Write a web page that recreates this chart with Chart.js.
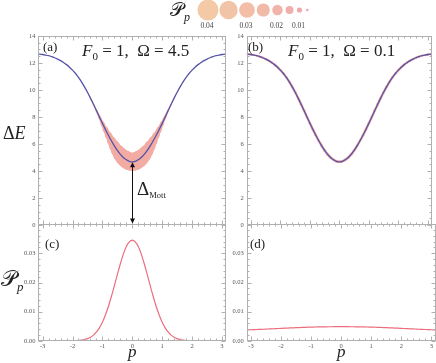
<!DOCTYPE html>
<html>
<head>
<meta charset="utf-8">
<script src="https://cdn.jsdelivr.net/npm/chart.js@4/dist/chart.umd.min.js"></script>
<style>
html, body { margin: 0; padding: 0; background: #fff; overflow: hidden; }
#wrap { position: relative; width: 436px; height: 363px; }
canvas { position: absolute; left: 0; top: 0; }
.t { position: absolute; font-family: "Liberation Serif", "DejaVu Serif", serif; color: #222; white-space: nowrap; line-height: 1; }
.sub { font-style: italic; position: relative; }
</style>
</head>
<body>
<div id="wrap">
  <canvas id="cA" width="436" height="363"></canvas>
  <canvas id="cB" width="436" height="363"></canvas>
  <canvas id="cC" width="436" height="363"></canvas>
  <canvas id="cD" width="436" height="363"></canvas>

  <div class="t" style="left:170px;top:0px;font-size:19px">𝒫<span class="sub" style="font-size:12px;top:5px">p</span></div>
  <div class="t" style="left:3px;top:124px;font-size:18px">Δ<i>E</i></div>
  <div class="t" style="left:1px;top:268px;font-size:22px">𝒫<span class="sub" style="font-size:13px;top:5px">p</span></div>

  <div class="t" style="left:43px;top:40px;font-size:13px">(a)</div>
  <div class="t" style="left:248px;top:40px;font-size:13px">(b)</div>
  <div class="t" style="left:45px;top:237px;font-size:13px">(c)</div>
  <div class="t" style="left:250px;top:237px;font-size:13px">(d)</div>

  <div class="t" style="left:82px;top:42px;font-size:17px"><i>F</i><span style="font-size:11px;position:relative;top:4px">0</span>&nbsp;=&nbsp;1,&nbsp;&nbsp;Ω&nbsp;=&nbsp;4.5</div>
  <div class="t" style="left:288px;top:42px;font-size:17px"><i>F</i><span style="font-size:11px;position:relative;top:4px">0</span>&nbsp;=&nbsp;1,&nbsp;&nbsp;Ω&nbsp;=&nbsp;0.1</div>

  <div class="t" style="left:137px;top:179px;font-size:19px">Δ<span style="font-size:8.5px;position:relative;top:3px">Mott</span></div>
</div>

<script>
// momentum grid
const pVals = [-3.1416, -3.1, -3.0, -2.9, -2.8, -2.7, -2.6, -2.5, -2.4, -2.3, -2.2, -2.1, -2.0,
  -1.9, -1.8, -1.7, -1.6, -1.5, -1.4, -1.3, -1.2, -1.1, -1.0, -0.9, -0.8, -0.7, -0.6, -0.5,
  -0.4, -0.3, -0.2, -0.1, 0.0, 0.1, 0.2, 0.3, 0.4, 0.5, 0.6, 0.7, 0.8, 0.9, 1.0, 1.1, 1.2,
  1.3, 1.4, 1.5, 1.6, 1.7, 1.8, 1.9, 2.0, 2.1, 2.2, 2.3, 2.4, 2.5, 2.6, 2.7, 2.8, 2.9, 3.0,
  3.1, 3.1416];

// quasi energy gap, same in (a) and (b)
const deltaE = [12.66, 12.65, 12.63, 12.59, 12.54, 12.47, 12.39, 12.29, 12.18, 12.04, 11.88, 11.69, 11.47,
  11.22, 10.93, 10.60, 10.23, 9.83, 9.40, 8.95, 8.48, 8.00, 7.53, 7.08, 6.65, 6.24, 5.86, 5.52,
  5.23, 5.00, 4.83, 4.72, 4.68, 4.72, 4.83, 5.00, 5.23, 5.52, 5.86, 6.24, 6.65, 7.08, 7.53, 8.00, 8.48,
  8.95, 9.40, 9.83, 10.23, 10.60, 10.93, 11.22, 11.47, 11.69, 11.88, 12.04, 12.18, 12.29, 12.39, 12.47, 12.54, 12.59, 12.63,
  12.65, 12.66];

// P_p for Omega = 4.5  (panel c)
const probFast = [0, 0, 0, 0, 0, 0, 0, 0, 0, 0, 0, 0, 0.00005,
  0.0001, 0.00015, 0.0003, 0.0005, 0.0008, 0.0013, 0.0020, 0.0031, 0.0045, 0.0064, 0.0089, 0.0118, 0.0152, 0.0189, 0.0227,
  0.0264, 0.0297, 0.0323, 0.0339, 0.0345, 0.0339, 0.0323, 0.0297, 0.0264, 0.0227, 0.0189, 0.0152, 0.0118, 0.0089, 0.0064, 0.0045, 0.0031,
  0.0020, 0.0013, 0.0008, 0.0005, 0.0003, 0.00015, 0.0001, 0.00005, 0, 0, 0, 0, 0, 0, 0, 0, 0, 0,
  0, 0];

// P_p for Omega = 0.1  (panel d)
const probSlow = [0.00381, 0.00382, 0.00385, 0.00389, 0.00393, 0.00397, 0.00402, 0.00407, 0.00412, 0.00417, 0.00422, 0.00427, 0.00432,
  0.00437, 0.00442, 0.00447, 0.00452, 0.00456, 0.00460, 0.00464, 0.00468, 0.00471, 0.00474, 0.00477, 0.00480, 0.00482, 0.00484, 0.00486,
  0.00487, 0.00488, 0.00489, 0.00490, 0.00490, 0.00490, 0.00489, 0.00488, 0.00487, 0.00486, 0.00484, 0.00482, 0.00480, 0.00477, 0.00474, 0.00471, 0.00468,
  0.00464, 0.00460, 0.00456, 0.00452, 0.00447, 0.00442, 0.00437, 0.00432, 0.00427, 0.00422, 0.00417, 0.00412, 0.00407, 0.00402, 0.00397, 0.00393, 0.00389, 0.00385,
  0.00382, 0.00381];

const mottGap = 4.68;

// ticks
const pTicks = [-3, -2, -1, 0, 1, 2, 3];
const energyTicks = [0, 2, 4, 6, 8, 10, 12, 14];
const probTicks = [0, 0.01, 0.02, 0.03];

// bubble legend
const legendProb = [0.04, 0.035, 0.03, 0.025, 0.02, 0.015, 0.01, 0.005];
const legendLabels = ['0.04', '', '0.03', '', '0.02', '', '0.01', ''];

const FONT = '"Liberation Serif", "DejaVu Serif", serif';
const BLUE = '#5654a8';
const PINK = '#ec6e7e';
const BAND = '#f2aca3';
const bubbleScale = 262; // px radius per unit of P_p

function bubbleR(v) { return v * bubbleScale; }

function legendColor(v) {
  // pink for small, peach for large
  const t = Math.min(1, v / 0.04);
  const a = [238, 158, 172], b = [243, 201, 166];
  const c = a.map((x, i) => Math.round(x + (b[i] - x) * t));
  return 'rgb(' + c.join(',') + ')';
}

const areas = {
  a: { l: 38.4, r: 226.2, t: 36, b: 225 },
  b: { l: 246.8, r: 435.6, t: 36, b: 225 },
  c: { l: 38.4, r: 226.2, t: 224, b: 341 },
  d: { l: 246.8, r: 435.6, t: 224, b: 341 }
};

const framePlugin = {
  id: 'frame',
  afterDatasetsDraw(chart, args, o) {
    const { ctx, chartArea: a } = chart;
    const xs = chart.scales.x, ys = chart.scales.y;
    const L = Math.round(a.left) + 0.5, R = Math.round(a.right) - 0.5;
    const T = Math.round(a.top) + 0.5, B = Math.round(a.bottom) - 0.5;
    ctx.save();
    ctx.strokeStyle = '#b0b0b0';
    ctx.lineWidth = 1;
    ctx.strokeRect(L, T, R - L, B - T);
    ctx.beginPath();
    for (let k = -16; k <= 16; k++) {
      const v = k / 5;
      if (v < xs.min || v > xs.max) continue;
      const len = k % 5 === 0 ? 4 : 2;
      const px = Math.round(xs.getPixelForValue(v)) + 0.5;
      ctx.moveTo(px, B); ctx.lineTo(px, B - len);
      ctx.moveTo(px, T); ctx.lineTo(px, T + len);
    }
    const n = Math.round(ys.max / o.minor);
    for (let k = 0; k <= n; k++) {
      const v = k * o.minor;
      const major = k % o.per === 0;
      const len = major ? 4 : 2;
      const py = Math.round(ys.getPixelForValue(v)) + 0.5;
      ctx.moveTo(L, py); ctx.lineTo(L + len, py);
      ctx.moveTo(R, py); ctx.lineTo(R - len, py);
    }
    ctx.stroke();
    ctx.restore();
  }
};

const mottPlugin = {
  id: 'mott',
  afterDatasetsDraw(chart) {
    const { ctx } = chart;
    const x = Math.round(chart.scales.x.getPixelForValue(0)) + 0.5;
    const y0 = chart.scales.y.getPixelForValue(0) - 1.5;
    const y1 = chart.scales.y.getPixelForValue(mottGap) + 0.5;
    ctx.save();
    ctx.strokeStyle = '#111';
    ctx.fillStyle = '#111';
    ctx.lineWidth = 1;
    ctx.beginPath();
    ctx.moveTo(x, y1 + 4); ctx.lineTo(x, y0 - 4);
    ctx.stroke();
    ctx.beginPath();
    ctx.moveTo(x, y1); ctx.lineTo(x - 2.5, y1 + 5); ctx.lineTo(x + 2.5, y1 + 5); ctx.closePath();
    ctx.moveTo(x, y0); ctx.lineTo(x - 2.5, y0 - 5); ctx.lineTo(x + 2.5, y0 - 5); ctx.closePath();
    ctx.fill();
    ctx.restore();
  }
};

const bubbleLegendPlugin = {
  id: 'bubbleLegend',
  afterDraw(chart) {
    const { ctx } = chart;
    const cy = 10;
    let x = 197.5 + bubbleR(legendProb[0]);
    ctx.save();
    legendProb.forEach((v, i) => {
      const r = bubbleR(v);
      ctx.beginPath();
      ctx.arc(x, cy, r, 0, Math.PI * 2);
      ctx.fillStyle = legendColor(v);
      ctx.fill();
      if (legendLabels[i]) {
        ctx.fillStyle = '#444';
        ctx.font = '7.5px ' + FONT;
        ctx.textAlign = 'center';
        ctx.textBaseline = 'middle';
        ctx.fillText(legendLabels[i], x - 1, 26);
      }
      if (i < legendProb.length - 1) {
        x += r + bubbleR(legendProb[i + 1]) + 0.9 + 0.5 * i;
      }
    });
    ctx.restore();
  }
};

function makePanel(id, area, yMax, yTicks, yFmt, frameOpts, datasets, withX, extraPlugins) {
  const yWidth = 30;
  const xScale = {
    type: 'linear',
    min: -Math.PI,
    max: Math.PI,
    display: withX,
    grid: { display: false, drawTicks: false },
    border: { display: false },
    afterBuildTicks: s => { s.ticks = pTicks.map(v => ({ value: v })); },
    ticks: { font: { family: FONT, size: 6.5 }, color: '#555', padding: 1, maxRotation: 0, autoSkip: false,
      callback: v => String(v) },
    title: { display: true, text: 'p', font: { family: FONT, size: 17, style: 'italic' }, color: '#222', padding: 0 }
  };
  if (withX) xScale.afterFit = s => { s.height = 363 - area.b; };

  return new Chart(document.getElementById(id), {
    type: 'line',
    data: { datasets },
    options: {
      responsive: false,
      animation: false,
      events: [],
      layout: { padding: { left: area.l - yWidth, right: 436 - area.r, top: area.t, bottom: withX ? 0 : 363 - area.b } },
      plugins: { legend: { display: false }, tooltip: { enabled: false }, frame: frameOpts },
      scales: {
        x: xScale,
        y: {
          type: 'linear',
          min: 0,
          max: yMax,
          grid: { display: false, drawTicks: false },
          border: { display: false },
          afterBuildTicks: s => { s.ticks = yTicks.map(v => ({ value: v })); },
          afterFit: s => { s.width = yWidth; },
          ticks: { font: { family: FONT, size: 6.5 }, color: '#555', padding: 3, callback: yFmt }
        }
      }
    },
    plugins: [framePlugin].concat(extraPlugins || [])
  });
}

function gapLine() {
  return {
    data: pVals.map((p, i) => ({ x: p, y: deltaE[i] })),
    borderColor: BLUE,
    borderWidth: 1.3,
    pointRadius: 0,
    cubicInterpolationMode: 'monotone',
    order: 1
  };
}

// P_p shown as bubbles on the gap curve
function gapBubbles(prob) {
  return {
    type: 'bubble',
    data: pVals.map((p, i) => ({ x: p, y: deltaE[i], r: bubbleR(prob[i]) })),
    backgroundColor: BAND,
    borderWidth: 0,
    order: 2
  };
}

// stroke between the bubbles so the chain reads as one band
function gapBand(prob) {
  const w = ctx => bubbleR(prob[ctx.p0DataIndex]) + bubbleR(prob[ctx.p1DataIndex]);
  return {
    data: pVals.map((p, i) => ({ x: p, y: deltaE[i] })),
    borderColor: BAND,
    borderWidth: 1,
    borderCapStyle: 'round',
    borderJoinStyle: 'round',
    pointRadius: 0,
    cubicInterpolationMode: 'monotone',
    segment: {
      borderWidth: ctx => Math.max(0.01, w(ctx)),
      borderColor: ctx => w(ctx) > 0.05 ? BAND : 'rgba(0,0,0,0)'
    },
    order: 3
  };
}

function probLine(prob) {
  return {
    data: pVals.map((p, i) => ({ x: p, y: prob[i] })),
    borderColor: PINK,
    borderWidth: 1.2,
    pointRadius: 0,
    cubicInterpolationMode: 'monotone'
  };
}

const eFmt = v => String(v);
const pFmt = v => v.toFixed(2);
const eFrame = { minor: 0.5, per: 4 };
const pFrame = { minor: 0.002, per: 5 };

makePanel('cA', areas.a, 14, energyTicks, eFmt, eFrame,
  [gapLine(), gapBubbles(probFast), gapBand(probFast)], false, [mottPlugin, bubbleLegendPlugin]);
makePanel('cB', areas.b, 14, energyTicks, eFmt, eFrame,
  [gapLine(), gapBubbles(probSlow), gapBand(probSlow)], false);
makePanel('cC', areas.c, 0.04, probTicks, pFmt, pFrame, [probLine(probFast)], true);
makePanel('cD', areas.d, 0.04, probTicks, pFmt, pFrame, [probLine(probSlow)], true);
</script>
</body>
</html>
